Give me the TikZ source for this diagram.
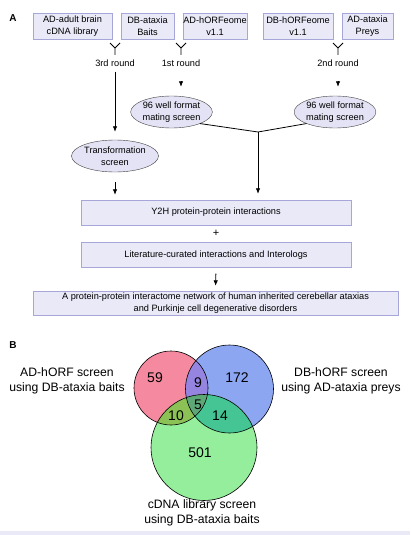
\documentclass[tikz,border=0pt]{standalone}
\usepackage{fontspec}
\setmainfont{Liberation Sans}
\usetikzlibrary{arrows.meta,shapes.geometric}
\definecolor{boxfill}{HTML}{E9E9F8}
\definecolor{boxline}{HTML}{A6A6D8}
\definecolor{ellfill}{HTML}{E3E3F5}
\definecolor{vennred}{HTML}{F4899F}
\definecolor{vennblue}{HTML}{8CA6F2}
\definecolor{venngreen}{HTML}{94EE9C}
\definecolor{vennRB}{HTML}{9585E0}
\definecolor{vennRG}{HTML}{8CC255}
\definecolor{vennBG}{HTML}{45C593}
\definecolor{vennall}{HTML}{5EA878}
\tikzset{
	srcbox/.style={draw=boxline, fill=boxfill, minimum height=26, inner sep=0, align=center, font=\fontsize{9.2}{12.5}\selectfont},
	wide/.style={srcbox, minimum height=25},
	screen/.style={ellipse, draw=black!75, fill=ellfill, minimum height=32, inner sep=0, align=center, font=\fontsize{9.2}{12.5}\selectfont},
	rnd/.style={font=\fontsize{9.2}{11}\selectfont},
	arr/.style={draw=black, thick, -{Latex[length=5.5pt,width=4.5pt]}},
	yfork/.style={draw=black, thick},
	vlabel/.style={align=center, font=\fontsize{12.2}{15}\selectfont},
	vnum/.style={font=\fontsize{14}{16}\selectfont},
	panel/.style={font=\bfseries\fontsize{10}{12}\selectfont}
}
\begin{document}
\begin{tikzpicture}[x=1pt, y=-1pt]
	\useasboundingbox (0,0) rectangle (410,535);
	% panel A
	\node[panel] (pa) at (13,18) {A};
	\node[srcbox, minimum width=79] (adlib) at (72.5,26) {AD-adult brain\\cDNA library};
	\node[srcbox, minimum width=53] (dbbait) at (147.5,26) {DB-ataxia\\Baits};
	\node[srcbox, minimum width=60] (adorf) at (215,26) {AD-hORFeome\\v1.1};
	\node[srcbox, minimum width=70] (dborf) at (298,26) {DB-hORFeome\\v1.1};
	\node[srcbox, minimum width=51] (adprey) at (367.5,26) {AD-ataxia\\Preys};
	% forks
	\draw[yfork] (110,43) -- (115,48) -- (120,43) (115,48) -- (115,55);
	\draw[yfork] (176,43) -- (181,48) -- (186,43) (181,48) -- (181,55);
	\draw[yfork] (333,43) -- (338,48) -- (343,43) (338,48) -- (338,55);
	\node[rnd] (r3) at (115,63) {3rd round};
	\node[rnd] (r1) at (181,63) {1st round};
	\node[rnd] (r2) at (338,63) {2nd round};
	\node[screen, minimum width=67] (mateL) at (171.5,112) {96 well format\\mating screen};
	\node[screen, minimum width=74] (mateR) at (335,112) {96 well format\\mating screen};
	\node[screen, minimum width=83] (transf) at (115,156) {Transformation\\screen};
	\node[wide, minimum width=270] (y2h) at (216,212.5) {Y2H protein-protein interactions};
	\node[font=\fontsize{11}{12}\selectfont] (plus) at (216,233) {+};
	\node[wide, minimum width=270] (lit) at (216,255) {Literature-curated interactions and Interologs};
	\node[wide, minimum width=365, minimum height=24] (net) at (215.5,303) {A protein-protein interactome network of human inherited cerebellar ataxias\\and Purkinje cell degenerative disorders};
	\coordinate (junc) at (258,132);
	% connectors
	\draw[arr, shorten <=2pt, shorten >=8pt] (r3.south) -- (transf.north);
	\draw[arr, shorten <=11pt, shorten >=9pt] (r1.south) -- (r1.south |- mateL.north);
	\draw[arr, shorten <=11pt, shorten >=9pt] (r2.south) -- (r2.south |- mateR.north);
	\draw[yfork] (mateL.-22) -- (junc) -- (mateR.202);
	\draw[arr, shorten >=6pt] (junc) -- (junc |- y2h.north);
	\draw[arr, shorten <=10pt, shorten >=5pt] (transf.south) -- (transf.south |- y2h.north);
	\draw[arr, shorten <=6pt, shorten >=5pt] (lit.south) -- (net.north);
	% panel B
	\node[panel] (pb) at (13,345) {B};
	\coordinate (cR) at (171,388);
	\coordinate (cB) at (229.5,389);
	\coordinate (cG) at (204,447.5);
	\fill[vennred] (cR) circle (37);
	\fill[vennblue] (cB) circle (44);
	\fill[venngreen] (cG) circle (53);
	\begin{scope}
		\clip (cB) circle (44);
		\fill[vennBG] (cG) circle (53);
	\end{scope}
	\begin{scope}
		\clip (cR) circle (37);
		\fill[vennRB] (cB) circle (44);
		\fill[vennRG] (cG) circle (53);
		\clip (cB) circle (44);
		\fill[vennall] (cG) circle (53);
	\end{scope}
	\draw[black, semithick] (cR) circle (37);
	\draw[black, semithick] (cB) circle (44);
	\draw[black, semithick] (cG) circle (53);
	\node[vnum] (n59) at (155,378) {59};
	\node[vnum] (n9) at (198,383) {9};
	\node[vnum] (n172) at (237,378) {172};
	\node[vnum] (n10) at (176,416) {10};
	\node[vnum] (n5) at (198,405) {5};
	\node[vnum] (n14) at (220,416) {14};
	\node[vnum] (n501) at (200,453) {501};
	\node[vlabel] (vennAD) at (67,380.5) {AD-hORF screen\\using DB-ataxia baits};
	\node[vlabel] (vennDB) at (341,380.5) {DB-hORF screen\\using AD-ataxia preys};
	\node[vlabel] (vennCD) at (202,513) {cDNA library screen\\using DB-ataxia baits};
	\fill[boxfill] (0,531) rectangle (410,535);
\end{tikzpicture}
\end{document}
